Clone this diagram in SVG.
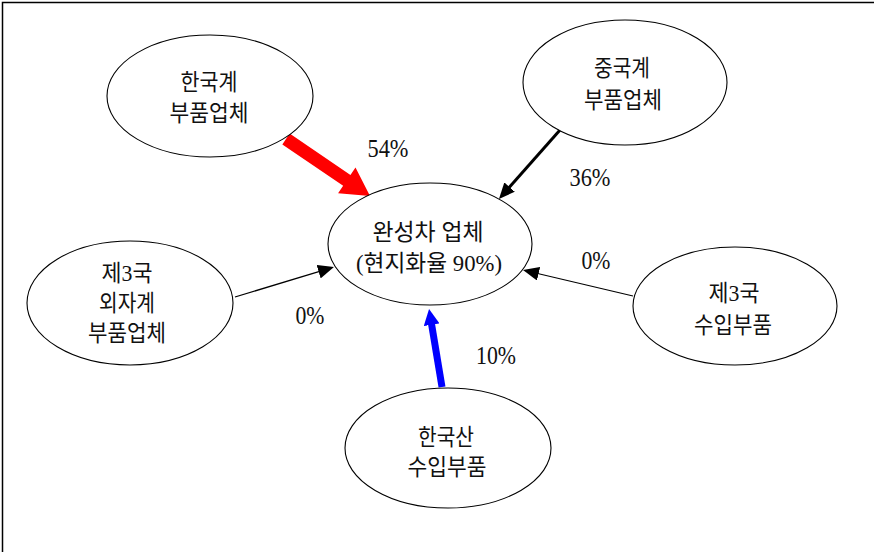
<svg xmlns="http://www.w3.org/2000/svg" width="874" height="552" viewBox="0 0 874 552">
  <style>
    .node ellipse { fill: #ffffff; stroke: #000000; stroke-width: 1.1; }
    .lbl { font-family: "Liberation Serif", "Noto Sans CJK KR", serif; font-size: 23px; fill: #111111; text-anchor: middle; }
    .pct { font-family: "Liberation Serif", "Noto Sans CJK KR", serif; font-size: 26px; fill: #111111; text-anchor: middle; }
    .thin { stroke: #000000; stroke-width: 1.2; fill: none; }
  </style>
  <defs>
    <marker id="head-black" markerUnits="userSpaceOnUse" markerWidth="16" markerHeight="14" refX="1" refY="7" orient="auto">
      <path d="M0,0 L16,7 L0,14 z" fill="#000000"/>
    </marker>
    <marker id="head-blue" markerUnits="userSpaceOnUse" markerWidth="16" markerHeight="16" refX="1" refY="8" orient="auto">
      <path d="M0,0 L16,8 L0,16 z" fill="#0000ff"/>
    </marker>
  </defs>

  <rect x="0" y="0" width="874" height="552" fill="#ffffff"/>
  <!-- frame: top and left edges -->
  <path d="M2.5,552 V2.5 H874" fill="none" stroke="#000000" stroke-width="1.5"/>

  <g id="connectors">
    <!-- Korean suppliers: wide red arrow -->
    <polygon points="282.35,144.38 343.15,185.68 338.1,193.13 370,196 355.5,167.47 350.45,174.92 289.65,133.62" fill="#ff0000"/>
    <!-- Chinese suppliers -->
    <line x1="560" y1="130" x2="508.9" y2="187.8" stroke="#000000" stroke-width="3" marker-end="url(#head-black)"/>
    <!-- third-country foreign suppliers -->
    <line class="thin" x1="235" y1="297" x2="319.6" y2="271.4" marker-end="url(#head-black)"/>
    <!-- third-country imports -->
    <line class="thin" x1="633" y1="296" x2="537.6" y2="273.5" marker-end="url(#head-black)"/>
    <!-- Korean imports: blue arrow -->
    <line x1="442" y1="387" x2="431.5" y2="323.8" stroke="#0000ff" stroke-width="7" marker-end="url(#head-blue)"/>
  </g>

  <g id="edge-labels">
    <text class="pct" x="388" y="157" textLength="41" lengthAdjust="spacingAndGlyphs">54%</text>
    <text class="pct" x="590" y="186" textLength="41" lengthAdjust="spacingAndGlyphs">36%</text>
    <text class="pct" x="596" y="269" textLength="29" lengthAdjust="spacingAndGlyphs">0%</text>
    <text class="pct" x="310" y="324" textLength="29" lengthAdjust="spacingAndGlyphs">0%</text>
    <text class="pct" x="496" y="364" textLength="40" lengthAdjust="spacingAndGlyphs">10%</text>
  </g>

  <g id="node-kr-suppliers" class="node">
    <ellipse cx="210" cy="96" rx="103" ry="61"/>
    <text class="lbl" x="209" y="90" textLength="57" lengthAdjust="spacingAndGlyphs">한국계</text>
    <text class="lbl" x="209" y="121" textLength="79" lengthAdjust="spacingAndGlyphs">부품업체</text>
  </g>

  <g id="node-cn-suppliers" class="node">
    <ellipse cx="625" cy="82.5" rx="102" ry="62.5"/>
    <text class="lbl" x="622" y="76" textLength="56" lengthAdjust="spacingAndGlyphs">중국계</text>
    <text class="lbl" x="623" y="108" textLength="78" lengthAdjust="spacingAndGlyphs">부품업체</text>
  </g>

  <g id="node-automaker" class="node">
    <ellipse cx="430" cy="244" rx="102" ry="61"/>
    <text class="lbl" x="428" y="240" textLength="111" lengthAdjust="spacingAndGlyphs">완성차 업체</text>
    <text class="lbl" x="429" y="271" textLength="146" lengthAdjust="spacingAndGlyphs">(현지화율 90%)</text>
  </g>

  <g id="node-3rd-foreign" class="node">
    <ellipse cx="130" cy="303" rx="103" ry="62"/>
    <text class="lbl" x="127" y="281" textLength="51" lengthAdjust="spacingAndGlyphs">제3국</text>
    <text class="lbl" x="127" y="311" textLength="56" lengthAdjust="spacingAndGlyphs">외자계</text>
    <text class="lbl" x="127" y="341" textLength="78" lengthAdjust="spacingAndGlyphs">부품업체</text>
  </g>

  <g id="node-3rd-imports" class="node">
    <ellipse cx="735" cy="306" rx="102" ry="59"/>
    <text class="lbl" x="734" y="301" textLength="51" lengthAdjust="spacingAndGlyphs">제3국</text>
    <text class="lbl" x="733" y="333" textLength="78" lengthAdjust="spacingAndGlyphs">수입부품</text>
  </g>

  <g id="node-kr-imports" class="node">
    <ellipse cx="448" cy="448" rx="103" ry="60"/>
    <text class="lbl" x="446" y="445" textLength="56" lengthAdjust="spacingAndGlyphs">한국산</text>
    <text class="lbl" x="447" y="475" textLength="79" lengthAdjust="spacingAndGlyphs">수입부품</text>
  </g>
</svg>
